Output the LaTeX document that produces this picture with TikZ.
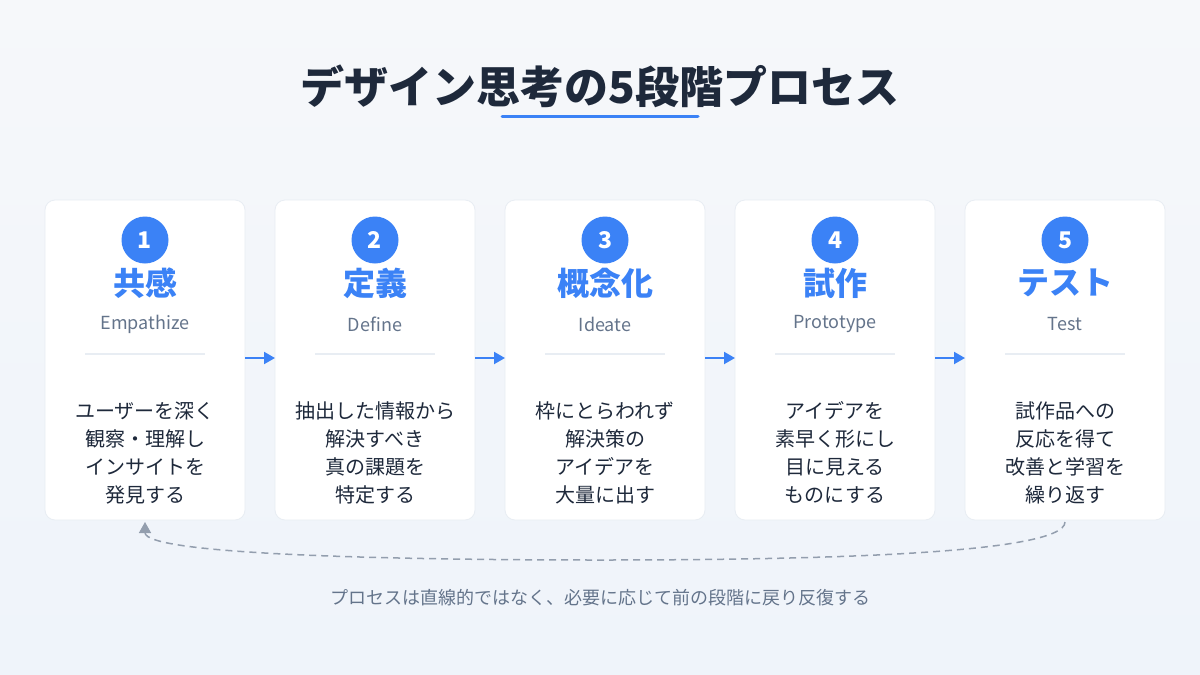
\documentclass[tikz,border=0pt]{standalone}
\usepackage{fontspec}
\setmainfont{Noto Sans CJK JP}
\usetikzlibrary{arrows.meta}
\definecolor{accent}{HTML}{3B82F6}
\definecolor{ink}{HTML}{1E293B}
\definecolor{muted}{HTML}{64748B}
\definecolor{rule}{HTML}{E8EDF3}
\tikzset{
  every node/.style = {font = \fontsize{18}{26}\selectfont, text=ink},
  card/.style = {fill=white, draw=rule, line width=0.8pt, rounded corners=10pt},
  numdot/.style = {circle, fill=accent, minimum size=47pt, inner sep=0pt,
    text=white, font=\fontsize{23}{23}\selectfont\bfseries},
  steptitle/.style = {text=accent, font=\fontsize{32}{33}\selectfont\bfseries},
  stepen/.style = {text=muted, font=\fontsize{18}{20}\selectfont},
  stepbody/.style = {align=center, font=\fontsize{20}{28}\selectfont},
  >={Triangle[length=11pt, width=12pt]}
}
\begin{document}
\begin{tikzpicture}[x=1pt, y=-1pt]
  \useasboundingbox (0,0) rectangle (1200,675);
  \shade[top color=white!60!rule, bottom color=rule!90!accent!40] (0,0) rectangle (1200,675);

  % Title
  \node (title) at (600,86) {\fontsize{44}{44}\selectfont\bfseries デザイン思考の5段階プロセス};
  \draw[accent, line width=3pt, line cap=round] (502,116) -- (698,116);

  % Cards
  \foreach \i/\jp/\en/\body in {1/共感/Empathize/{ユーザーを深く\\観察・理解し\\インサイトを\\発見する},
                                2/定義/Define/{抽出した情報から\\解決すべき\\真の課題を\\特定する},
                                3/概念化/Ideate/{枠にとらわれず\\解決策の\\アイデアを\\大量に出す},
                                4/試作/Prototype/{アイデアを\\素早く形にし\\目に見える\\ものにする},
                                5/テスト/Test/{試作品への\\反応を得て\\改善と学習を\\繰り返す}}{
    \pgfmathsetmacro\cx{145+230*(\i-1)}
    \draw[card] (\cx-100,200) rectangle (\cx+100,520);
    \node[numdot] (n\i) at (\cx,240) {\i};
    \node[steptitle] (t\i) at (\cx,283) {\jp};
    \node[stepen] (e\i) at (\cx,324) {\en};
    \draw[rule, line width=1.5pt] (\cx-60,354) -- (\cx+60,354);
    \node[stepbody] (b\i) at (\cx,453) {\body};
    \coordinate (L\i) at (\cx-100,358);
    \coordinate (R\i) at (\cx+100,358);
    \coordinate (B\i) at (\cx,522);
  }

  % Connectors
  \foreach \a/\b in {1/2, 2/3, 3/4, 4/5}{
    \draw[->, accent, line width=2pt] (R\a) -- (L\b);
  }

  % Feedback loop
  \draw[->, muted!70, line width=1.5pt, dash pattern=on 7pt off 5pt]
    (B5) .. controls (1065,555) and (800,560) .. (600,560)
         .. controls (400,560) and (145,555) .. (B1);

  \node[text=muted, font=\fontsize{18}{20}\selectfont] (note) at (600,598)
    {プロセスは直線的ではなく、必要に応じて前の段階に戻り反復する};
\end{tikzpicture}
\end{document}
